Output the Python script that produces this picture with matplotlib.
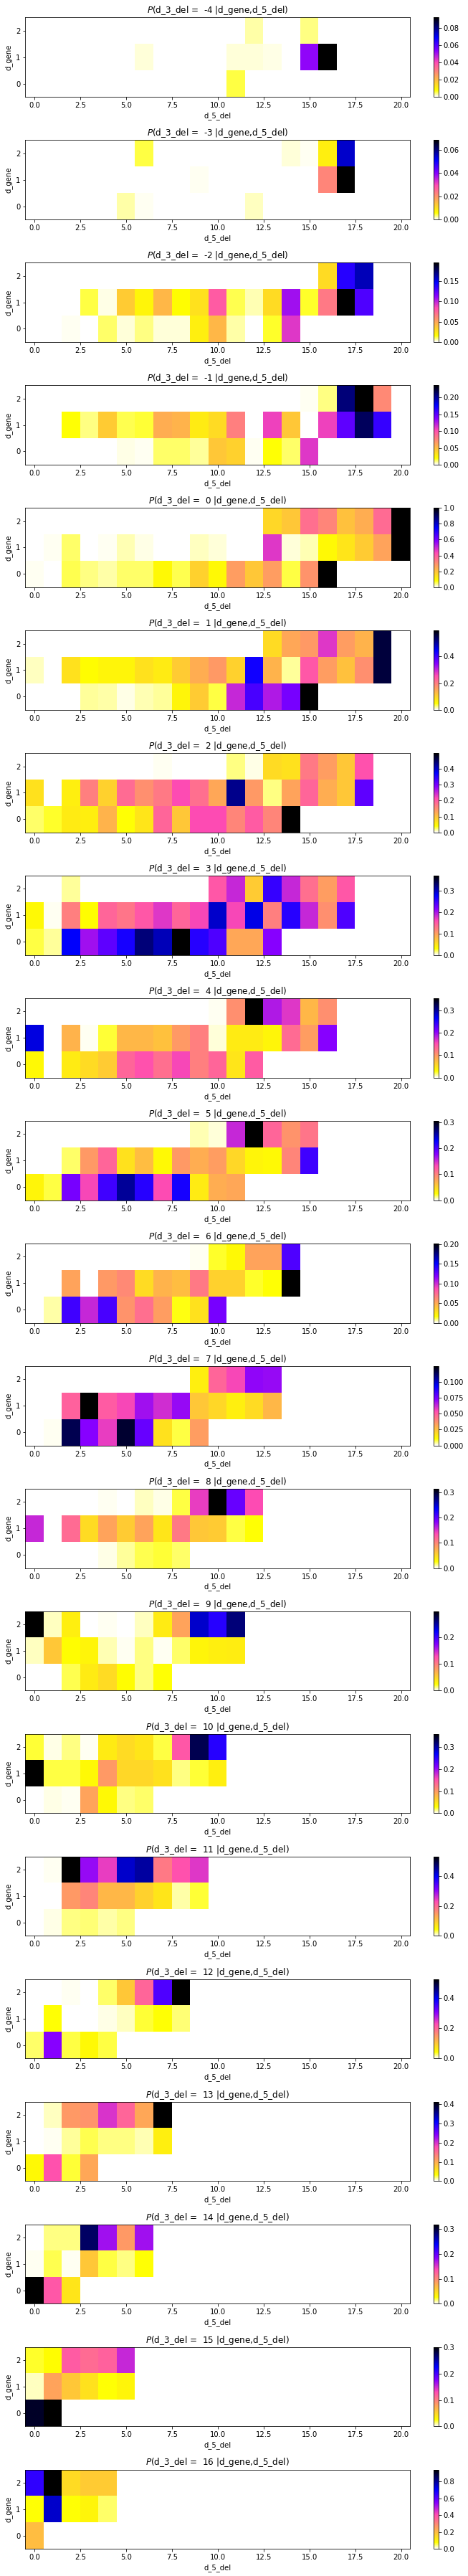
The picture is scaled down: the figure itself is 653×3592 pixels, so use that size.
import numpy as np
import matplotlib
matplotlib.use('Agg')
import matplotlib.pyplot as plt

n_d5 = 21
d3_del = list(range(-4, 17))

# peak of each panel (top of its colorbar)
peak = [0.092, 0.0685, 0.196, 0.237, 1.0, 0.595, 0.498, 0.372, 0.353, 0.305, 0.202,
        0.1245, 0.316, 0.297, 0.361, 0.534, 0.527, 0.414, 0.32, 0.302, 0.942]
# colorbar tick spacing of each panel
cbar_step = [0.02, 0.02, 0.05, 0.05, 0.2, 0.2, 0.1, 0.1, 0.1, 0.1, 0.05,
             0.025, 0.1, 0.1, 0.1, 0.2, 0.2, 0.1, 0.1, 0.1, 0.2]
x_ticks = [0, 2.5, 5, 7.5, 10, 12.5, 15, 17.5, 20]
y_ticks = [0, 1, 2]

# cell values as share of the panel peak, rows are d_gene 0,1,2, columns d_5_del from 0
# (columns left out at the end of a row are empty)
p_m4 = [[0,0,0,0,0,0,0,0,0,0,0,.06],
        [0,0,0,0,0,0,.015,0,0,0,0,.012,.015,.01,0,.57,1],
        [0,0,0,0,0,0,0,0,0,0,0,0,.03,0,0,.04]]
p_m3 = [[0,0,0,0,0,.03,.005,0,0,0,0,0,.02],
        [0,0,0,0,0,0,0,0,0,.004,0,0,0,0,0,0,.32,1],
        [0,0,0,0,0,0,.06,0,0,0,0,0,0,0,.015,.007,.11,.8]]
p_m2 = [[0,0,.004,0,.05,.012,.04,.015,.015,.11,.22,.03,0,.07,.47],
        [0,0,0,.06,.01,.18,.1,.22,.085,.14,.4,.055,.025,.15,.55,.07,.34,1,.65],
        [0,0,0,0,0,0,0,0,0,0,0,0,0,0,0,0,.15,.7,.82]]
p_m1 = [[0,0,0,0,0,.01,.007,.05,.05,.035,.19,.17,.006,.08,.05,.47],
        [0,0,.08,.04,.18,.055,.065,.24,.23,.12,.15,.33,0,.45,.19,0,.45,.63,.91,.68],
        [0,0,0,0,0,0,0,0,0,0,0,0,0,0,0,.007,.04,.88,1,.31]]
p_0 = [[.004,0,.055,.04,.03,.05,.05,.09,.055,.17,.09,.27,.19,.27,.06,.29,1],
       [0,.004,.05,0,.005,.025,.01,0,0,.02,.012,0,0,.47,.012,.025,.09,.13,.18,.26,1],
       [0,0,0,0,0,0,0,0,0,0,0,0,0,.16,.19,.36,.32,.2,.24,.37,1]]
p_1 = [[0,0,0,.035,.03,.01,.025,.035,.1,.18,.06,.5,.66,.53,.6,1],
       [.02,0,.14,.085,.1,.1,.14,.12,.18,.24,.28,.17,.73,.23,.035,.41,.27,.2,.3,.94],
       [0,0,0,0,0,0,0,0,0,0,0,0,0,.15,.25,.28,.47,.27,.23,.94]]
p_2 = [[.05,.07,.12,.11,.23,.08,.13,.38,.19,.43,.43,.32,.4,.32,1],
       [.14,0,.11,.33,.17,.37,.3,.34,.43,.36,.25,.86,.28,.04,.26,.38,.24,.19,.63],
       [0,0,0,0,0,0,0,.005,0,0,0,.04,.008,.15,.14,.34,.27,.19,.42]]
p_3 = [[.06,.035,.75,.55,.63,.72,.88,.82,1,.7,.65,.25,.25,.58],
       [.09,.007,.33,.085,.38,.35,.41,.47,.38,.44,.8,.44,.77,.33,.7,.5,.3,.65],
       [0,0,.035,0,0,0,0,0,0,0,.41,.5,.18,.68,.5,.36,.27,.41]]
p_4 = [[.09,0,.12,.15,.18,.38,.42,.36,.44,.33,.38,.13,.4],
       [.78,0,.23,.007,.065,.22,.22,.2,.28,.33,.012,.12,.12,.1,.37,.27,.58],
       [0,0,0,0,0,0,0,0,0,0,.006,.3,1,.53,.47,.22,.3]]
p_5 = [[.1,.06,.6,.44,.67,.85,.7,.43,.72,.12,.24,.25],
       [0,0,.05,.28,.38,.14,.21,.09,.28,.24,.27,.16,.1,.09,.32,.67],
       [0,0,0,0,0,0,0,0,0,.025,.012,.5,1,.38,.29,.35]]
p_6 = [[0,.03,.67,.5,.66,.29,.36,.27,.075,.14,.6],
       [0,0,.26,0,.28,.31,.15,.23,.21,.34,.17,.17,.07,.08,1],
       [0,0,0,0,0,0,0,0,0,.006,.07,.09,.26,.26,.65]]
p_7 = [[0,.006,.92,.58,.46,.95,.62,.14,.06,.27],
       [0,0,.39,1,.4,.44,.55,.49,.56,.19,.16,.11,.15,.22],
       [0,0,0,0,0,0,0,0,0,.11,.38,.44,.57,.56]]
p_8 = [[0,0,0,0,.01,.035,.055,.065,.05],
       [.5,0,.37,.15,.26,.18,.26,.13,.34,.19,.18,.06,.08],
       [0,0,0,0,.004,0,.02,.01,.06,.46,1,.62,.43]]
p_9 = [[0,0,.055,.12,.15,.085,.04,.08],
       [.02,.19,.085,.1,.025,.006,.04,.004,.05,.1,.11,.115],
       [1,.02,.11,0,.006,.002,.02,.12,.26,.8,.7,.88]]
p_10 = [[0,.008,.006,.26,.09,.04,.05],
        [1,.06,.06,.09,.28,.16,.16,.14,.04,.065,.11],
        [.065,.008,.04,.005,.12,.15,.13,.06,.41,.92,.7]]
p_11 = [[0,.01,.04,.045,.03,.04],
        [0,0,.28,.32,.22,.22,.17,.13,.03,.065],
        [0,.005,1,.56,.46,.8,.84,.34,.42,.47]]
p_12 = [[.05,.58,.06,.09,.06],
        [0,.08,0,0,.008,.02,.065,.08,.045],
        [0,0,.004,0,.05,.19,.38,.65,1]]
p_13 = [[.09,.42,.065,.25],
        [0,.005,.035,.055,.04,.04,.025,.11],
        [0,.02,.28,.29,.48,.38,.25,1]]
p_14 = [[1,.41,.13],
        [.004,.055,.004,.19,.06,.04,.08],
        [0,.04,.04,.9,.55,.28,.55]]
p_15 = [[.96,1],
        [.02,.26,.19,.14,.08,.1],
        [.07,.085,.4,.37,.39,.5]]
p_16 = [[.21],
        [.08,.8,.08,.1,.05],
        [.69,1,.15,.18,.18]]

panels = [p_m4, p_m3, p_m2, p_m1, p_0, p_1, p_2, p_3, p_4, p_5, p_6,
          p_7, p_8, p_9, p_10, p_11, p_12, p_13, p_14, p_15, p_16]

W, H = 653, 3592
fig = plt.figure(figsize=(W/72, H/72), dpi=72)

for i in range(len(panels)):
    grid = np.zeros((3, n_d5))
    for r, row in enumerate(panels[i]):
        grid[r, :len(row)] = row
    grid = grid*peak[i]

    top = 24.3 + 170.96*i
    ax = fig.add_axes([35.3/W, 1-(top+110.7)/H, 537/W, 110.7/H])
    im = ax.imshow(grid, origin='lower', aspect='auto', cmap='gnuplot2_r')
    ax.set_xticks(x_ticks)
    ax.set_yticks(y_ticks)
    ax.set_xlabel('d_5_del')
    ax.set_ylabel('d_gene')
    ax.set_title(r'$P$(d_3_del =  %d |d_gene,d_5_del)' % d3_del[i])

    cax = fig.add_axes([605.3/W, 1-(top+110.7)/H, 6.4/W, 110.7/H])
    cb = fig.colorbar(im, cax=cax)
    cb.set_ticks(np.arange(0, peak[i]+1e-9, cbar_step[i]))

fig.savefig('out.png', dpi=72)
